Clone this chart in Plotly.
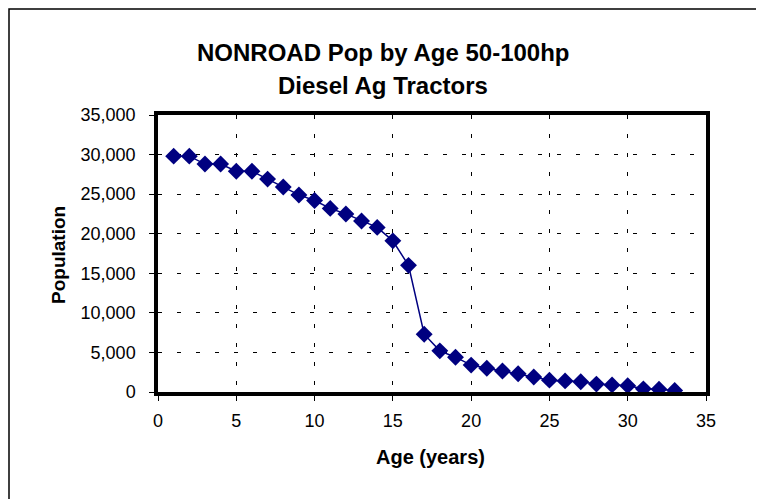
import plotly.graph_objects as go

age = list(range(1, 34))
population = [29800, 29800, 28800, 28800, 27900, 27900, 26900, 25900, 24900, 24200,
              23200, 22500, 21600, 20800, 19100, 16000, 7300, 5200, 4400, 3400,
              3000, 2650, 2300, 1900, 1500, 1400, 1300, 1000, 900, 800,
              400, 350, 200]
title_lines = ["NONROAD Pop by Age 50-100hp", "Diesel Ag Tractors"]
x_title = "Age (years)"
y_title = "Population"

W, H = 764, 499
OFF = 8  # page body margin offset
L, R, T, B = 158 - OFF, 706 - OFF, 115 - OFF, 392 - OFF

fig = go.Figure()
fig.add_trace(go.Scatter(
    x=age, y=population, mode="lines+markers",
    line=dict(color="#000080", width=1.5),
    marker=dict(symbol="diamond", size=13, color="#000080"),
    showlegend=False,
))

font = "Liberation Sans, Arial, sans-serif"
fig.update_layout(
    width=W, height=H,
    margin=dict(l=L, r=W - R, t=T, b=H - B, pad=0),
    paper_bgcolor="white", plot_bgcolor="white",
    font=dict(family=font, color="black", size=18),
    xaxis=dict(range=[0, 35], tickvals=list(range(0, 36, 5)),
               showgrid=True, gridcolor="black", griddash="4px,15px", gridwidth=1,
               ticks="outside", ticklen=5, tickcolor="black",
               showline=True, linecolor="black", linewidth=3.5, mirror=True,
               zeroline=False, tickfont=dict(size=18), ticklabelstandoff=5),
    yaxis=dict(range=[0, 35000], tickvals=list(range(0, 35001, 5000)),
               tickformat=",d", separatethousands=True,
               showgrid=True, gridcolor="black", griddash="4px,15px", gridwidth=1,
               ticks="outside", ticklen=5, tickcolor="black",
               showline=True, linecolor="black", linewidth=3.5, mirror=True,
               zeroline=False, tickfont=dict(size=18), ticklabelstandoff=10),
)

def px_x(x):
    return (x - OFF - L) / (R - L)

def px_y(y):
    return (B - (y - OFF)) / (B - T)

fig.add_annotation(x=px_x(383), y=px_y(52), xref="paper", yref="paper",
                   text="<b>" + title_lines[0] + "</b>", showarrow=False,
                   font=dict(size=24, family=font), xanchor="center", yanchor="middle")
fig.add_annotation(x=px_x(383), y=px_y(85), xref="paper", yref="paper",
                   text="<b>" + title_lines[1] + "</b>", showarrow=False,
                   font=dict(size=24, family=font), xanchor="center", yanchor="middle")
fig.add_annotation(x=px_x(430), y=px_y(457), xref="paper", yref="paper",
                   text="<b>" + x_title + "</b>", showarrow=False,
                   font=dict(size=20, family=font), xanchor="center", yanchor="middle")
fig.add_annotation(x=px_x(58), y=px_y(255), xref="paper", yref="paper",
                   text="<b>" + y_title + "</b>", showarrow=False, textangle=-90,
                   font=dict(size=19, family=font), xanchor="center", yanchor="middle")

fig.add_shape(type="rect", xref="paper", yref="paper",
              x0=px_x(9), x1=px_x(800), y0=px_y(540), y1=px_y(9),
              line=dict(color="black", width=1.5), fillcolor="rgba(0,0,0,0)", layer="below")

fig.write_html("out.html")
